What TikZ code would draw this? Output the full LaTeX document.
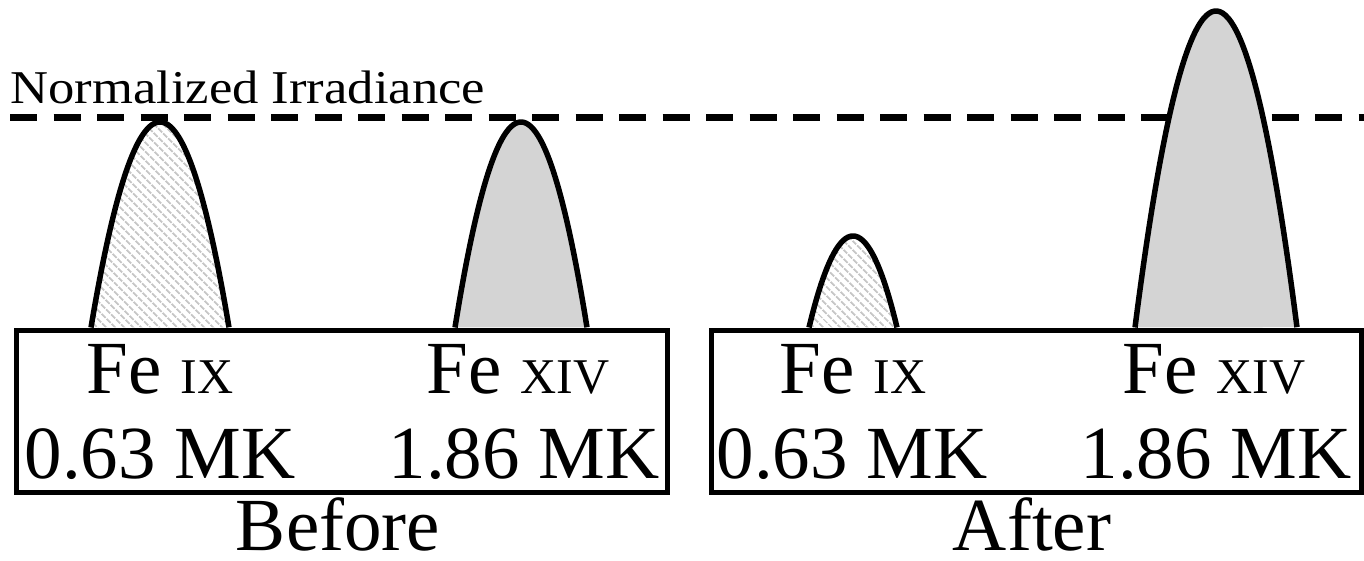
\documentclass[tikz,border=0pt]{standalone}
\usepackage{fontspec}
\setmainfont{Liberation Serif}
\usetikzlibrary{patterns.meta}
\newcommand{\bigtxt}{\fontsize{75}{80}\selectfont}
\newcommand{\sctxt}[1]{{\fontsize{50}{50}\selectfont #1}}
\tikzset{
  peakline/.style={line width=5.5pt, line join=round},
  hatchpeak/.style={peakline, pattern={Lines[angle=-45,distance=6.5pt,line width=2pt]}, pattern color=black!22},
  graypeak/.style={peakline, fill=black!17},
  panel/.style={line width=5pt},
  lbl/.style={anchor=base, inner sep=0pt, font=\bigtxt},
  caption/.style={lbl, text depth=0pt},
  refline/.style={line width=7pt, dash pattern=on 27pt off 16.5pt}
}
\newcommand{\peakpath}[4]{% xc, hw, top, base
  plot[domain=-1:1, samples=60, smooth] ({#1+#2*\x},{#4-(#4-#3)*(1-\x*\x)})}
\begin{document}
\begin{tikzpicture}[x=1pt,y=-1pt]
\useasboundingbox (0,0) rectangle (1364,561);
% reference line and label
\coordinate (rl) at (10,117.5);
\coordinate (rr) at (1364,117.5);
\draw[refline] (rl) -- (rr);
\node[anchor=base west, inner sep=0pt] (norm) at (10,104)
  {\scalebox{1.12}[1]{\fontsize{47}{50}\selectfont Normalized Irradiance}};
% peaks
\draw[hatchpeak] \peakpath{160}{69}{122}{327.5};
\draw[graypeak] \peakpath{521}{66}{122}{327.5};
\draw[hatchpeak] \peakpath{853}{44}{236}{327.5};
\draw[graypeak] \peakpath{1216}{81}{11}{327.5};
% panels
\node[draw, panel, fill=white, minimum width=650.5pt, minimum height=162pt, inner sep=0pt, anchor=north west] (bbox) at (14,327.5) {};
\node[draw, panel, fill=white, minimum width=650pt, minimum height=162pt, inner sep=0pt, anchor=north west] (abox) at (709,327.5) {};
% texts before
\node[lbl] (b1) at (160,393) {Fe \sctxt{IX}};
\node[lbl] (b2) at (518,393) {Fe \sctxt{XIV}};
\node[lbl] (b3) at (160,478) {0.63 MK};
\node[lbl] (b4) at (524,478) {1.86 MK};
\node[caption] (bt) at (338,550) {Before};
% texts after
\node[lbl] (a1) at (853,393) {Fe \sctxt{IX}};
\node[lbl] (a2) at (1214,393) {Fe \sctxt{XIV}};
\node[lbl] (a3) at (852,478) {0.63 MK};
\node[lbl] (a4) at (1216,478) {1.86 MK};
\node[caption] (at) at (1032,550) {After};
\end{tikzpicture}
\end{document}
